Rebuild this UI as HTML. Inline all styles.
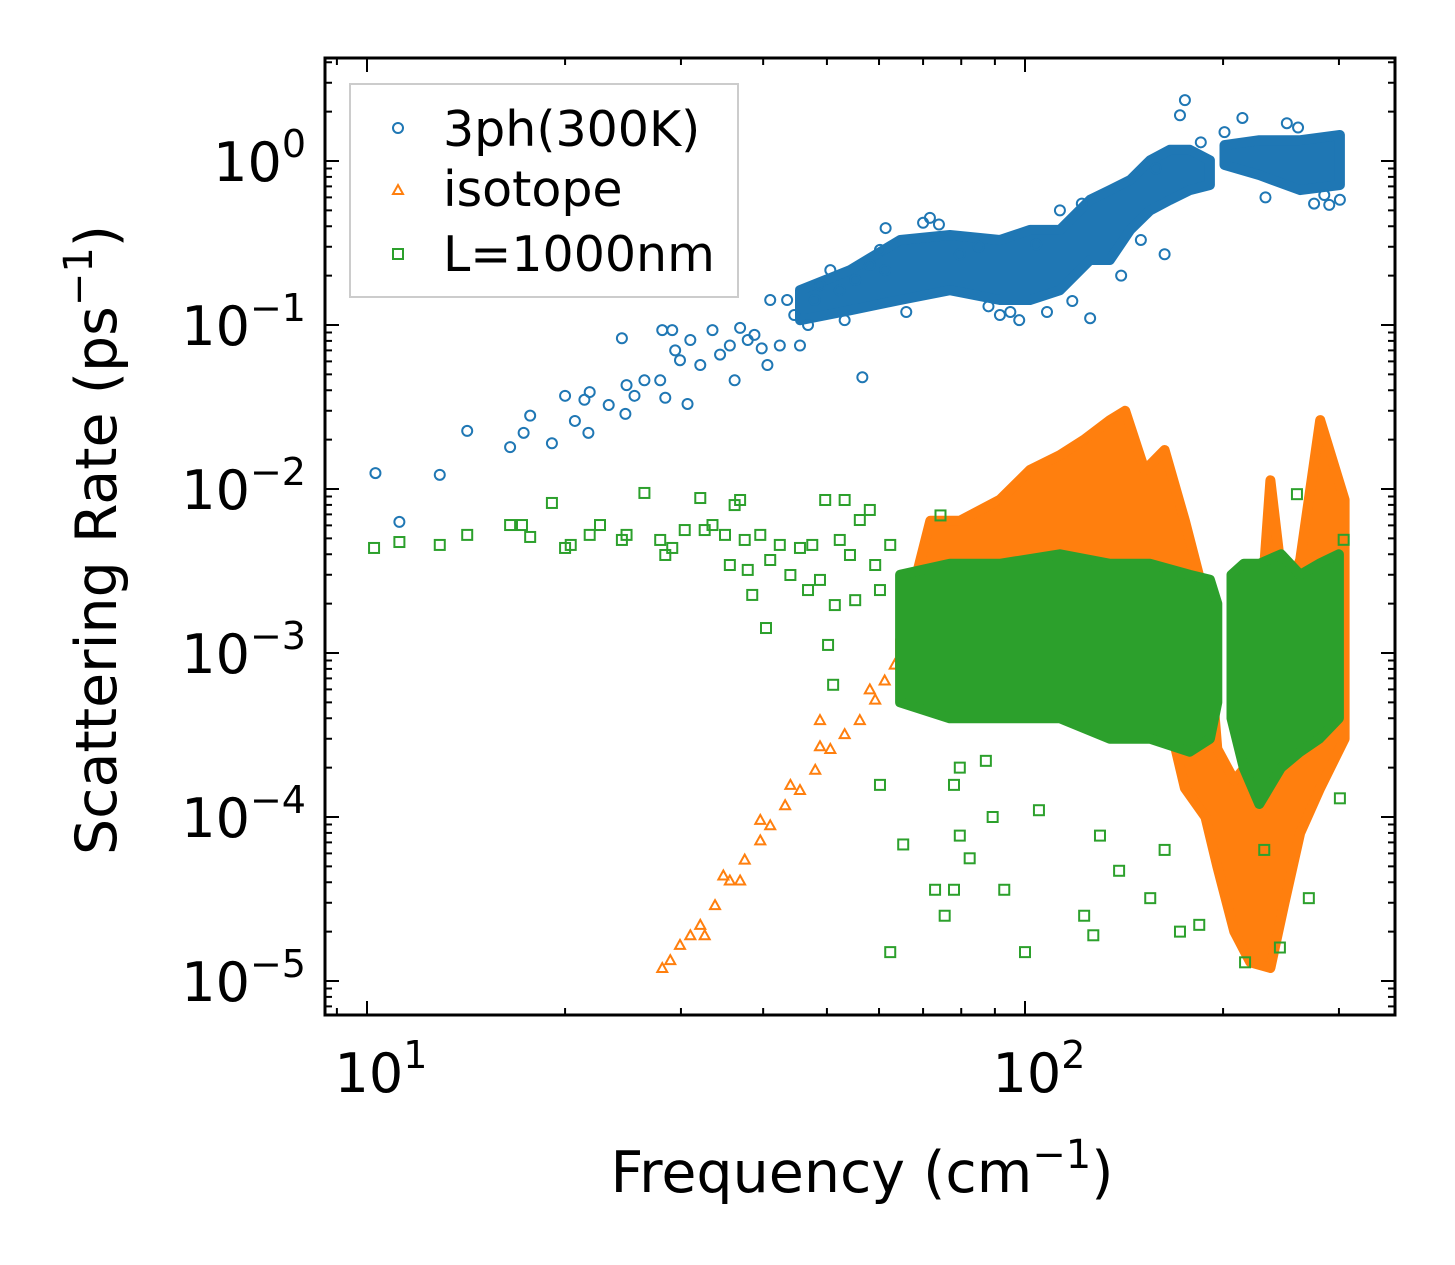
<!DOCTYPE html>
<html><head><meta charset="utf-8"><style>
html,body{margin:0;padding:0;background:#fff;}
svg{display:block;font-family:"DejaVu Sans","Liberation Sans",sans-serif;}
</style></head><body>
<svg id="chart" width="1455" height="1265" viewBox="0 0 1455 1265" xmlns="http://www.w3.org/2000/svg">
<rect width="1455" height="1265" fill="#fff"/>
<g id="plot"></g>
<g id="axes"></g>
<text x="862" y="1192" font-size="57" text-anchor="middle">Frequency (cm<tspan dy="-24" font-size="40">−1</tspan><tspan dy="24">)</tspan></text>
<text transform="translate(116,540) rotate(-90)" font-size="57" text-anchor="middle">Scattering Rate (ps<tspan dy="-24" font-size="40">−1</tspan><tspan dy="24">)</tspan></text>
<g>
<rect x="350" y="84" width="388" height="213" fill="#fff" stroke="#ccc" stroke-width="2"/>
<circle cx="398" cy="128" r="5" fill="none" stroke="#1f77b4" stroke-width="2"/>
<text x="443" y="146" font-size="49">3ph(300K)</text>
<polygon points="398,185 403,194 393,194" fill="none" stroke="#ff7f0e" stroke-width="2"/>
<text x="443" y="206" font-size="49">isotope</text>
<rect x="393" y="249" width="10" height="10" fill="none" stroke="#2ca02c" stroke-width="2"/>
<text x="443" y="271" font-size="49">L=1000nm</text>
</g>
</svg>
<script>
const blueF=[10.3,11.2,12.9,14.2,16.5,17.3,17.7,19.1,20.0,20.7,21.4,21.7,21.8,23.3,24.4,24.8,24.7,25.5,26.4,27.9,28.4,28.1,29.1,29.9,30.7,29.4,31.0,32.1,33.5,34.4,35.6,36.2,36.9,37.9,38.8,39.8,40.6,41.0,42.4,43.5,44.6,45.5,46.8,47.9,48.8,50.6,52.3,53.2,55.2,56.6,58.1,60.2,61.3,61.4,71.7,91.6,98,125.6,163,175,214,290,301,79.6,113,172,201,260,66,70,74,85,88,95,104,108,118,122,140,150,158,185,232,250,275,285];
const blueR=[0.0125,0.0063,0.0122,0.0226,0.018,0.022,0.028,0.019,0.037,0.026,0.035,0.022,0.039,0.0325,0.083,0.043,0.0287,0.037,0.046,0.046,0.036,0.093,0.093,0.061,0.033,0.070,0.081,0.057,0.093,0.066,0.075,0.046,0.096,0.081,0.087,0.072,0.057,0.142,0.075,0.142,0.115,0.075,0.1,0.142,0.175,0.216,0.163,0.107,0.188,0.048,0.232,0.287,0.216,0.39,0.45,0.115,0.107,0.11,0.27,2.35,1.83,0.54,0.58,0.27,0.5,1.9,1.5,1.6,0.12,0.42,0.41,0.3,0.13,0.12,0.31,0.12,0.14,0.55,0.2,0.33,0.9,1.3,0.6,1.7,0.55,0.62];
const blueBandF1=[45.5,54.2,64.6,76.9,91.6,101.8,113,125.6,134.6,144.5,154.9,166,178,191];
const blueBandLo1=[0.107,0.123,0.142,0.163,0.142,0.142,0.163,0.249,0.249,0.38,0.50,0.578,0.665,0.714];
const blueBandHi1=[0.163,0.216,0.33,0.354,0.33,0.38,0.38,0.58,0.665,0.766,1.01,1.17,1.17,1.01];
const blueBandF2=[201,227,262,301];
const blueBandLo2=[0.946,0.82,0.665,0.714];
const blueBandHi2=[1.25,1.34,1.34,1.44];

const orangeF=[28.1,28.9,29.9,31.0,32.1,33.8,35.6,37.5,39.6,41.0,43.2,45.5,48.0,50.6,53.2,56.1,59.2,61.2,63.4,34.8,39.6,48.8,48.8,58.1,36.9,32.6,44];
const orangeR=[1.2e-5,1.34e-5,1.66e-5,1.9e-5,2.2e-5,2.9e-5,4.1e-5,5.5e-5,7.2e-5,8.9e-5,1.18e-4,1.46e-4,1.94e-4,2.6e-4,3.2e-4,3.9e-4,5.2e-4,6.8e-4,8.5e-4,4.4e-5,9.6e-5,3.9e-4,2.7e-4,6e-4,4.1e-5,1.9e-5,1.57e-4];
const orangeBandF=[64.6,71.8,79.6,91.6,101.8,113,123,134.6,142,152,163,175,188,196,208,220,236,248,262,281,306];
const orangeBandHi=[0.0012,0.0064,0.0064,0.0086,0.0131,0.0161,0.020,0.0263,0.030,0.013,0.0173,0.0064,0.0021,0.00026,0.000167,0.00022,0.0113,0.0021,0.0037,0.0263,0.0086];
const orangeBandLo=[0.0008,0.0006,0.0005,0.0005,0.0005,0.0005,0.0005,0.0005,0.0005,0.0005,0.0005,0.00015,0.0001,0.00005,0.00002,0.000013,0.000012,0.00003,0.00008,0.00015,0.0003];

const greenF=[10.25,11.2,12.9,14.2,16.5,17.2,17.7,19.1,20.0,20.4,21.8,22.6,24.4,24.8,26.4,27.9,28.4,29.1,30.4,32.1,32.6,33.5,35.0,35.6,36.2,36.9,37.5,37.9,38.5,39.6,40.4,41.0,42.4,44.0,45.5,46.8,47.5,48.8,49.7,50.2,51.1,51.4,52.3,53.2,54.2,55.2,56.1,58.1,59.2,60.2,62.4,60.2,65.3,62.4,73,75.5,78,79.6,82.4,89.3,93,100,105,123,127,130,139,155,163,172,184,216,231,244,270,301,305,259,74.4,78,79.6,87.2];
const greenR=[0.00437,0.00475,0.00456,0.00525,0.00603,0.00603,0.0051,0.00822,0.00437,0.00456,0.00525,0.00603,0.00489,0.00525,0.00946,0.00489,0.00396,0.00437,0.00562,0.00881,0.00562,0.00603,0.00525,0.00344,0.00798,0.00857,0.00489,0.00321,0.00226,0.00525,0.00142,0.00369,0.00456,0.00299,0.00437,0.00242,0.00456,0.00279,0.00857,0.00112,0.00064,0.00196,0.00489,0.00857,0.00396,0.0021,0.00647,0.00745,0.00344,0.00242,0.00456,0.000157,6.8e-5,1.5e-5,3.6e-5,2.5e-5,3.6e-5,7.7e-5,5.6e-5,1e-4,3.6e-5,1.5e-5,1.1e-4,2.5e-5,1.9e-5,7.7e-5,4.7e-5,3.2e-5,6.3e-5,2e-5,2.2e-5,1.3e-5,6.3e-5,1.6e-5,3.2e-5,1.3e-4,0.0049,0.0093,0.0069,0.000157,0.0002,0.00022];
const greenBandF1=[64.6,76.9,91.6,113,134.6,154.9,178,191,196];
const greenBandLo1=[0.0005,0.0004,0.0004,0.0004,0.0003,0.0003,0.00025,0.0003,0.0005];
const greenBandHi1=[0.003,0.0035,0.0035,0.004,0.0035,0.0035,0.003,0.0028,0.002];
const greenBandF2=[206,215,227,245,262,280,300];
const greenBandLo2=[0.0004,0.0002,0.00012,0.0002,0.00025,0.0003,0.0004];
const greenBandHi2=[0.003,0.0035,0.0035,0.004,0.003,0.0035,0.004];

const xTickVals=[10,100];
const xTickLabels=["1","2"];
const yTickVals=[1,0.1,0.01,0.001,0.0001,0.00001];
const yTickLabels=["0","−1","−2","−3","−4","−5"];

const L=325,R=1395,T=58,B=1015;
function X(f){return 367+(Math.log10(f)-1)*658;}
function Y(r){return 161-Math.log10(r)*164;}
const NS="http://www.w3.org/2000/svg";
const plot=document.getElementById('plot'), axes=document.getElementById('axes');
function mk(tag,attrs,parent){const e=document.createElementNS(NS,tag);for(const k in attrs)e.setAttribute(k,attrs[k]);parent.appendChild(e);return e;}

function band(F,lo,hi,color,name){
  let pts=F.map((f,i)=>X(f).toFixed(1)+','+Y(hi[i]).toFixed(1));
  for(let i=F.length-1;i>=0;i--)pts.push(X(F[i]).toFixed(1)+','+Y(lo[i]).toFixed(1));
  const p=mk('polygon',{points:pts.join(' '),fill:color,stroke:color,'stroke-width':10,'stroke-linejoin':'round'},plot);
  
  
}
function circles(F,Rv,color){
  F.forEach((f,i)=>{const c=mk('circle',{cx:X(f),cy:Y(Rv[i]),r:5,fill:'none',stroke:color,'stroke-width':2},plot);
  
  });
}
function tris(F,Rv,color){
  F.forEach((f,i)=>{const x=X(f),y=Y(Rv[i]);const t=mk('polygon',{points:`${x},${y-5} ${x+5},${y+4} ${x-5},${y+4}`,fill:'none',stroke:color,'stroke-width':2},plot);
  
  });
}
function squares(F,Rv,color){
  F.forEach((f,i)=>{const s=mk('rect',{x:X(f)-5,y:Y(Rv[i])-5,width:10,height:10,fill:'none',stroke:color,'stroke-width':2},plot);
  
  });
}
band(blueBandF1,blueBandLo1,blueBandHi1,'#1f77b4','3ph-dense-band');
band(blueBandF2,blueBandLo2,blueBandHi2,'#1f77b4','3ph-dense-band');
circles(blueF,blueR,'#1f77b4');
band(orangeBandF,orangeBandLo,orangeBandHi,'#ff7f0e','isotope-dense-band');
tris(orangeF,orangeR,'#ff7f0e');
band(greenBandF1,greenBandLo1,greenBandHi1,'#2ca02c','boundary-dense-band');
band(greenBandF2,greenBandLo2,greenBandHi2,'#2ca02c','boundary-dense-band');
squares(greenF,greenR,'#2ca02c');

const fr=mk('rect',{x:L,y:T,width:R-L,height:B-T,fill:'none',stroke:'#000','stroke-width':3},axes);


for(let d=1;d<=3;d++){for(let m=1;m<=9;m++){const f=m*Math.pow(10,d-1);const x=X(f);if(x<L+1||x>R-1)continue;const len=m===1?14:7;
  mk('line',{x1:x,y1:B,x2:x,y2:B-len,stroke:'#000','stroke-width':2},axes);
  mk('line',{x1:x,y1:T,x2:x,y2:T+len,stroke:'#000','stroke-width':2},axes);}}
xTickVals.forEach((v,i)=>{const t=mk('text',{x:X(v)+14,y:1092,'font-size':54,'text-anchor':'middle'},axes);
  
  
  t.innerHTML='10<tspan dy="-24" font-size="38">'+xTickLabels[i]+'</tspan>';});
for(let e=-6;e<=0;e++){for(let m=1;m<=9;m++){const v=m*Math.pow(10,e);const y=Y(v);if(y<T+1||y>B-1)continue;const len=m===1?14:7;
  mk('line',{x1:L,y1:y,x2:L+len,y2:y,stroke:'#000','stroke-width':2},axes);
  mk('line',{x1:R,y1:y,x2:R-len,y2:y,stroke:'#000','stroke-width':2},axes);}}
yTickVals.forEach((v,i)=>{const t=mk('text',{x:306,y:Y(v)+20,'font-size':54,'text-anchor':'end'},axes);
  
  
  t.innerHTML='10<tspan dy="-24" font-size="38">'+yTickLabels[i]+'</tspan>';});
</script>
</body></html>
